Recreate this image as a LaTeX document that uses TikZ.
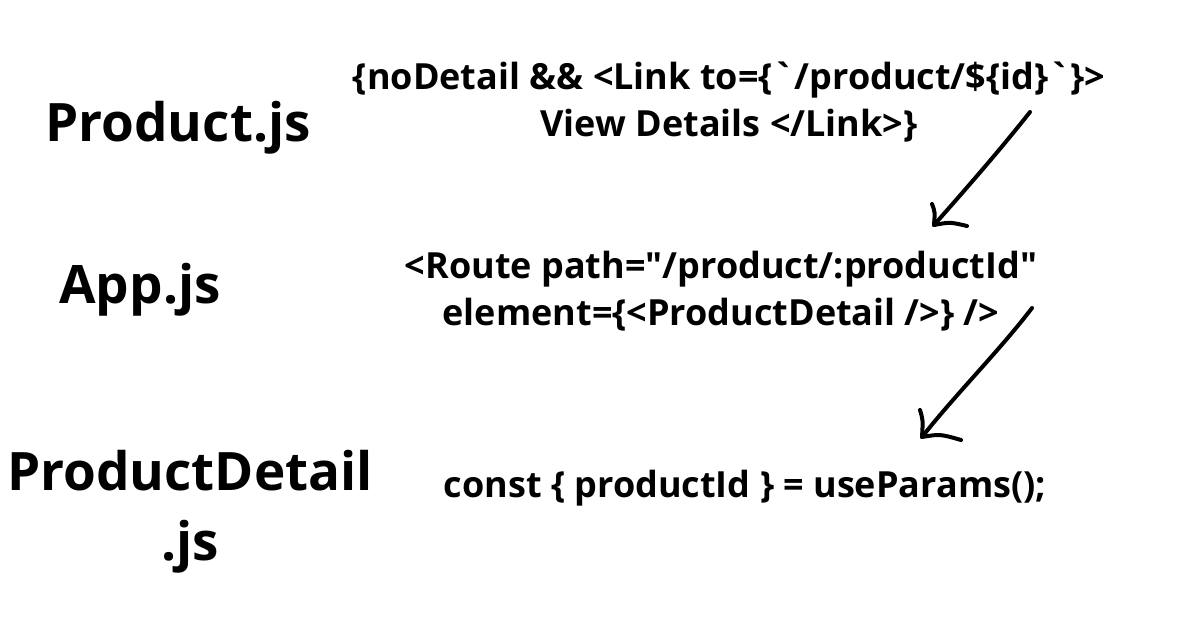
\documentclass[tikz,border=0pt]{standalone}
\usepackage{fontspec}
\setmainfont{Open Sans}[UprightFont=* Bold, Ligatures=TeXOff]
\begin{document}
\begin{tikzpicture}[x=1pt,y=-1pt,
  title/.style={font=\fontsize{53}{70}\selectfont, inner sep=0pt, anchor=center},
  code/.style={font=\fontsize{36}{47}\selectfont, inner sep=0pt, anchor=center, align=center},
  arrowline/.style={line width=4pt, line cap=round, line join=round}]
\useasboundingbox[fill=white] (0,0) rectangle (1200,628);
\node[title] (product) at (178,128) {Product.js};
\node[title] (app) at (140,290) {App.js};
\node[title, align=center] (detail) at (190,512) {ProductDetail\\.js};
\node[code] (link) at (729,102) {\{noDetail \&\& <Link to=\{`/product/\$\{id\}`\}>\\View Details </Link>\}};
\node[code] (route) at (721,291) {<Route path="/product/:productId"\\element=\{<ProductDetail />\} />};
\node[code] (params) at (745,488) {const \{ productId \} = useParams();};
\coordinate (a1s) at (1030,112);
\coordinate (a1t) at (934,225);
\coordinate (a1l) at (932,204);
\coordinate (a1r) at (967,226);
\coordinate (a2s) at (1032,308);
\coordinate (a2t) at (922,437);
\coordinate (a2l) at (920,410);
\coordinate (a2r) at (961,440);
\draw[arrowline] (a1s) .. controls (1000,150) and (965,190) .. (a1t);
\draw[arrowline] (a1l) .. controls (935,212) .. (a1t) .. controls (950,222) .. (a1r);
\draw[arrowline] (a2s) .. controls (1000,350) and (955,395) .. (a2t);
\draw[arrowline] (a2l) .. controls (923,420) .. (a2t) .. controls (940,434) .. (a2r);
\end{tikzpicture}
\end{document}
